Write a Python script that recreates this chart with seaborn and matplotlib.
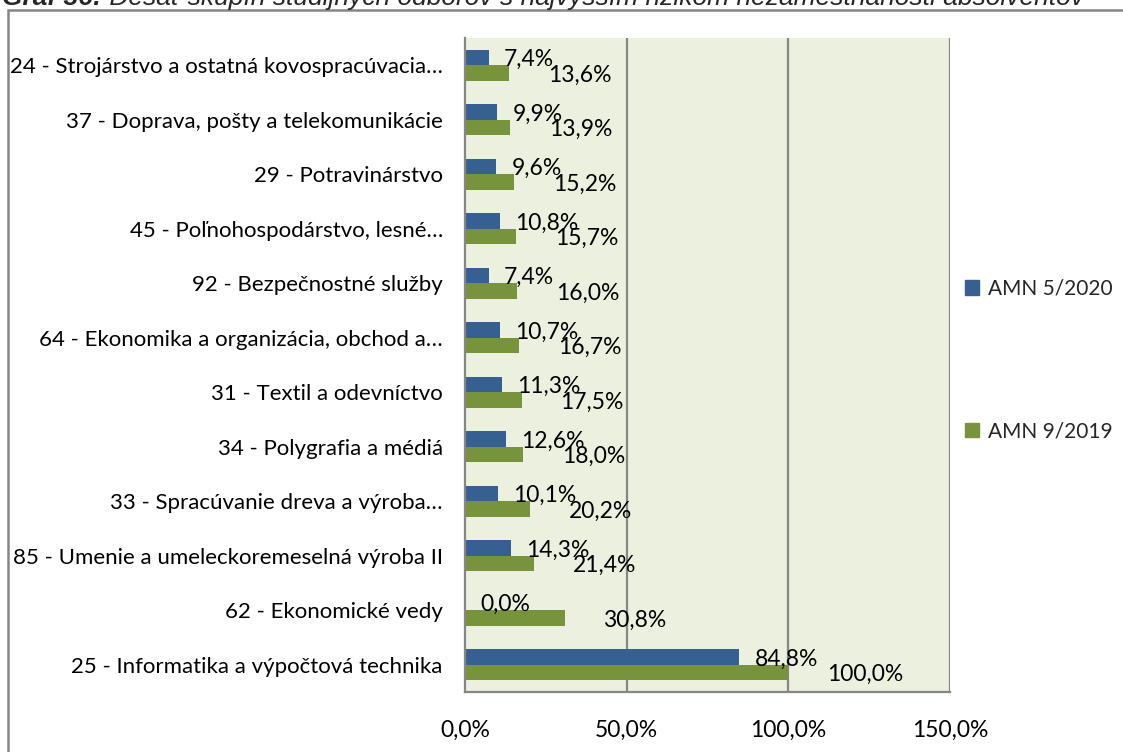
import matplotlib
matplotlib.use("Agg")
import matplotlib.pyplot as plt
import matplotlib.patches as mpatches
from matplotlib.ticker import FixedLocator, FuncFormatter
import seaborn as sns
import pandas as pd

categories = [
    "24 - Strojárstvo a ostatná kovospracúvacia…",
    "37 - Doprava, pošty a telekomunikácie",
    "29 - Potravinárstvo",
    "45 - Poľnohospodárstvo, lesné…",
    "92 - Bezpečnostné služby",
    "64 - Ekonomika a organizácia, obchod a…",
    "31 - Textil a odevníctvo",
    "34 - Polygrafia a médiá",
    "33 - Spracúvanie dreva a výroba…",
    "85 - Umenie a umeleckoremeselná výroba II",
    "62 - Ekonomické vedy",
    "25 - Informatika a výpočtová technika",
]
amn_2020 = [7.4, 9.9, 9.6, 10.8, 7.4, 10.7, 11.3, 12.6, 10.1, 14.3, 0.0, 84.8]
amn_2019 = [13.6, 13.9, 15.2, 15.7, 16.0, 16.7, 17.5, 18.0, 20.2, 21.4, 30.8, 100.0]
series_names = ["AMN 5/2020", "AMN 9/2019"]
x_ticks = [0, 50, 100, 150]
title_bold = "Graf 36:"
title_rest = " Desať skupín študijných odborov s najvyšším rizikom nezamestnanosti absolventov"

colors = ["#376092", "#77933C"]

sns.set_style("white")
plt.rcParams["font.family"] = ["Lato", "DejaVu Sans"]

df = pd.DataFrame({
    "cat": categories * 2,
    "val": amn_2020 + amn_2019,
    "series": [series_names[0]] * len(categories) + [series_names[1]] * len(categories),
})

fig = plt.figure(figsize=(11.23, 7.52), dpi=100)
W, H = 1123, 752
ax = fig.add_axes([465 / W, 1 - 692 / H, (950 - 465) / W, (692 - 38) / H])

sns.barplot(data=df, y="cat", x="val", hue="series", hue_order=series_names,
            order=categories, palette=colors, orient="h", width=0.56,
            linewidth=0, saturation=1, ax=ax, legend=True)

ax.set_facecolor("#EBF1DE")
ax.set_xlim(0, 150)
ax.set_ylim(len(categories) - 0.5, -0.5)
ax.set_xlabel("")
ax.set_ylabel("")

grid_c = "#868686"
ax.xaxis.set_major_locator(FixedLocator(x_ticks))
ax.xaxis.set_major_formatter(FuncFormatter(lambda v, p: f"{v:.1f}".replace(".", ",") + "%"))
for xv in x_ticks[1:]:
    ax.axvline(xv, color=grid_c, lw=1.6, zorder=0.5)
ax.set_axisbelow(True)

for s in ["top", "right"]:
    ax.spines[s].set_visible(False)
for s in ["left", "bottom"]:
    ax.spines[s].set_color(grid_c)
    ax.spines[s].set_linewidth(1.6)

ax.set_yticks(range(len(categories)))
ax.set_yticklabels(categories)
ax.set_yticks([i - 0.5 for i in range(len(categories) + 1)], minor=True)
ax.tick_params(axis="y", which="major", length=0, pad=16, labelsize=16, labelcolor="black")
ax.tick_params(axis="y", which="minor", length=6, width=1.6, color=grid_c, direction="out")
ax.tick_params(axis="x", which="major", length=6, width=1.6, color=grid_c, direction="out",
               labelsize=16.5, pad=14, labelcolor="black")

fmt = lambda v: f"{v:.1f}".replace(".", ",") + "%"
conts = ax.containers
lab_b = ax.bar_label(conts[0], labels=[fmt(v) for v in amn_2020], padding=11, fontsize=16.5, color="black")
lab_g = ax.bar_label(conts[1], labels=[fmt(v) for v in amn_2019], padding=28, fontsize=16.5, color="black")
for t in lab_b:
    t.set_verticalalignment("center_baseline")
for t in lab_g:
    t.set_verticalalignment("center_baseline")

handles = [mpatches.Patch(color=c, label=n) for c, n in zip(colors, series_names)]
ax.legend(handles=handles, loc="center left", bbox_to_anchor=(946 / W, 1 - 360 / H),
          bbox_transform=fig.transFigure, frameon=False, fontsize=15,
          handlelength=0.7, handleheight=0.7, handletextpad=0.4, labelspacing=5.9)

# outer chart border
border = mpatches.Rectangle((8 / W, -0.05), 1.2, 1 - 10 / H + 0.05, transform=fig.transFigure,
                            fill=False, edgecolor=grid_c, linewidth=1.8, clip_on=False)
fig.patches.append(border)

# partially visible title at top (cut off in the reference as well)
t1 = fig.text(2 / W, 1 - 5 / H, title_bold, fontsize=19, fontweight="bold", fontstyle="italic",
              family=["Liberation Sans", "DejaVu Sans"], va="baseline", ha="left")
fig.canvas.draw()
bb = t1.get_window_extent()
fig.text(bb.x1 / W, 1 - 5 / H, title_rest, fontsize=19, fontstyle="italic",
         family=["Liberation Sans", "DejaVu Sans"], va="baseline", ha="left")

fig.savefig("out.png", dpi=100)
